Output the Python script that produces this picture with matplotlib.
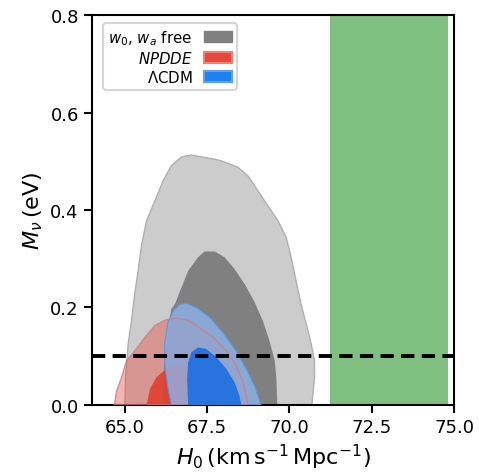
# Mnu vs H0 contours, redrawn from the published figure
import numpy as np
import matplotlib.pyplot as plt
from matplotlib.patches import Patch

# contour outlines (H0, Mnu), 68% and 95% regions
grey95_h0 = [65.00, 65.02, 65.10, 65.20, 65.30, 65.40, 65.51, 65.66, 65.91, 66.16,
             66.41, 66.72, 67.02, 67.42, 67.83, 68.13, 68.43, 68.74, 69.04, 69.34,
             69.65, 69.90, 70.05, 70.20, 70.35, 70.51, 70.66, 70.76, 70.76, 70.68]
grey95_mnu = [0.0, 0.057, 0.125, 0.173, 0.228, 0.275, 0.330, 0.378, 0.419, 0.460,
              0.491, 0.509, 0.513, 0.508, 0.503, 0.496, 0.488, 0.470, 0.440, 0.409,
              0.378, 0.344, 0.303, 0.255, 0.207, 0.166, 0.125, 0.091, 0.057, 0.0]

grey68_h0 = [66.15, 66.20, 66.30, 66.41, 66.52, 66.72, 66.92, 67.22, 67.42, 67.73,
             68.03, 68.33, 68.64, 68.94, 69.19, 69.39, 69.55, 69.60, 69.63]
grey68_mnu = [0.0, 0.08, 0.15, 0.197, 0.207, 0.241, 0.275, 0.303, 0.315, 0.315,
              0.303, 0.279, 0.248, 0.211, 0.173, 0.132, 0.091, 0.057, 0.0]

red95_h0 = [64.68, 64.75, 64.90, 65.05, 65.30, 65.61, 65.91, 66.21, 66.57, 66.92,
            67.17, 67.68, 68.08, 68.38, 68.59, 68.74]
red95_mnu = [0.0, 0.029, 0.057, 0.091, 0.111, 0.139, 0.163, 0.174, 0.178, 0.174,
             0.163, 0.139, 0.111, 0.081, 0.047, 0.0]

red68_h0 = [65.66, 65.76, 65.96, 66.26, 66.67, 67.07, 67.48, 67.88, 68.13, 68.20]
red68_mnu = [0.0, 0.033, 0.057, 0.074, 0.084, 0.082, 0.070, 0.050, 0.026, 0.0]

blue95_h0 = [66.41, 66.31, 66.21, 66.21, 66.31, 66.46, 66.67, 66.87, 67.17, 67.58,
             67.98, 68.38, 68.69, 68.94, 69.14]
blue95_mnu = [0.0, 0.033, 0.081, 0.128, 0.170, 0.193, 0.207, 0.209, 0.200, 0.180,
              0.149, 0.111, 0.074, 0.040, 0.0]

blue68_h0 = [66.92, 66.89, 66.92, 67.02, 67.22, 67.47, 67.78, 68.08, 68.33, 68.48,
             68.54]
blue68_mnu = [0.0, 0.053, 0.087, 0.108, 0.118, 0.115, 0.098, 0.074, 0.047, 0.019,
              0.0]

# local H0 band and neutrino mass line
h0_band = (71.24, 74.82)
mnu_line = 0.1

labels = [r'$w_0$, $w_a$ free', r'$NPDDE$', r'$\Lambda$CDM']

fig = plt.figure(figsize=(4.79, 4.77), dpi=100)
ax = fig.add_axes([0.192, 0.149, 0.756, 0.817])

# grey
ax.fill(grey95_h0, grey95_mnu, color='#cccccc', ec='#b0b0b0', lw=1, zorder=1)
ax.fill(grey68_h0, grey68_mnu, color='#808080', ec='none', zorder=2)
# red
ax.fill(red95_h0, red95_mnu, fc='#e8473c', alpha=0.4, ec='none', zorder=3)
ax.fill(red68_h0, red68_mnu, fc='#e0402f', alpha=0.9, ec='none', zorder=4)
# blue
ax.fill(blue95_h0, blue95_mnu, fc='#8db3ea', alpha=0.8, ec='#5a90e0', lw=1, zorder=5)
ax.fill(blue68_h0, blue68_mnu, fc='#1c6fe0', alpha=0.9, ec='none', zorder=6)
# red outline shows through the blue
ax.fill(red95_h0, red95_mnu, fc='none', ec='#c88088', lw=1, alpha=0.8, zorder=5.5)

ax.axvspan(*h0_band, color='green', alpha=0.5, lw=0, zorder=0)
ax.axhline(mnu_line, color='k', ls='--', lw=2.8, dashes=(3.4, 1.9), zorder=7)

ax.set_xlim(64, 75)
ax.set_ylim(0, 0.8)
ax.set_xticks([65.0, 67.5, 70.0, 72.5, 75.0])
ax.set_yticks([0.0, 0.2, 0.4, 0.6, 0.8])
ax.tick_params(labelsize=13, width=1.5, length=6)
for s in ax.spines.values():
    s.set_linewidth(1.5)

ax.set_xlabel(r'$H_0\,(\mathrm{km\,s^{-1}\,Mpc^{-1}})$', fontsize=16)
ax.set_ylabel(r'$M_\nu\,(\mathrm{eV})$', fontsize=16)

handles = [Patch(fc='#808080', ec='#808080'),
           Patch(fc='#e8473c', ec='#f08070', lw=1.5),
           Patch(fc='#2080f0', ec='#60a0f0', lw=1.5)]
leg = ax.legend(handles, labels, loc='upper left', markerfirst=False,
                fontsize=10.8, handlelength=1.85, handleheight=0.75,
                borderpad=0.35, labelspacing=0.2, bbox_to_anchor=(0.01, 1.0))
leg.get_frame().set_linewidth(1.5)

fig.savefig('out.png', dpi=100)
